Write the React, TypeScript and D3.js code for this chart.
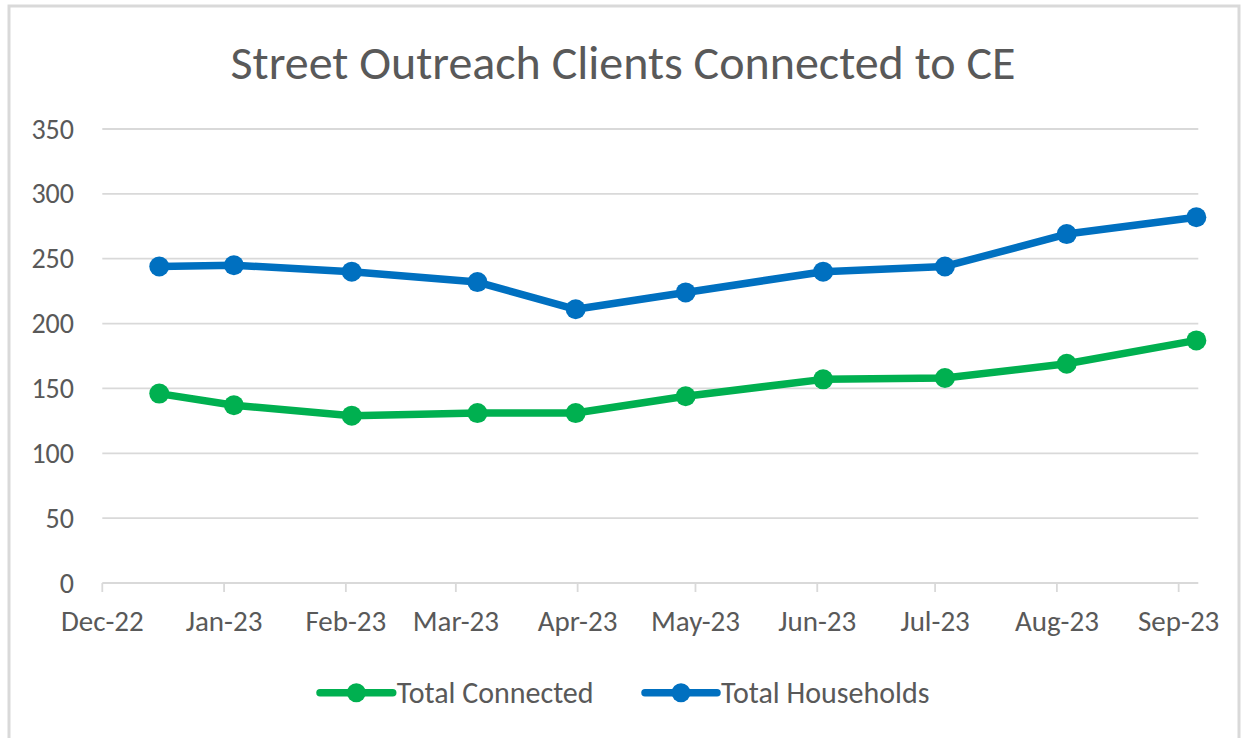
import React from "react";
import * as d3 from "d3";

const title = "Street Outreach Clients Connected to CE";
const dates = [
  "2022-12-15", "2023-01-03", "2023-02-02", "2023-03-06", "2023-03-31",
  "2023-04-28", "2023-06-02", "2023-07-03", "2023-08-03", "2023-09-05",
];
const totalConnected = [146, 137, 129, 131, 131, 144, 157, 158, 169, 187];
const totalHouseholds = [244, 245, 240, 232, 211, 224, 240, 244, 269, 282];
const yTicks = [0, 50, 100, 150, 200, 250, 300, 350];
const seriesNames = ["Total Connected", "Total Households"];
const seriesColors = ["#00B050", "#0070C0"];
const axisStart = "2022-12-01";
const axisEnd = "2023-09-06";

const W = 1246;
const H = 738;
const FONT = "Calibri, Carlito, Lato, 'Open Sans', sans-serif";
const TEXT = "#595959";
const GRID = "#D9D9D9";

export default function App() {
  const parse = (s: string) => new Date(s + "T00:00:00Z");
  const x = d3
    .scaleUtc()
    .domain([parse(axisStart), parse(axisEnd)])
    .range([102.3, 1198.3]);
  const y = d3.scaleLinear().domain([0, 350]).range([583, 129]);
  const half = 12 * 3600 * 1000;
  const xPos = (s: string) => x(new Date(parse(s).getTime() + half));
  const monthTicks = d3.utcMonth.range(parse(axisStart), parse(axisEnd));
  const fmt = d3.utcFormat("%b-%y");

  const series = [totalHouseholds, totalConnected].map((vals, k) => {
    const idx = k === 0 ? 1 : 0;
    return { vals, name: seriesNames[idx], color: seriesColors[idx] };
  });
  const line = d3
    .line<number>()
    .x((_, i) => xPos(dates[i]))
    .y((v) => y(v));

  const legendItems = [
    { name: seriesNames[0], color: seriesColors[0], x0: 320, x1: 392.7, tx: 396.7 },
    { name: seriesNames[1], color: seriesColors[1], x0: 645, x1: 717, tx: 721 },
  ];

  return (
    <svg
      width={W}
      height={H}
      style={{ position: "absolute", left: 0, top: 0, background: "#fff" }}
      fontFamily={FONT}
    >
      <rect x={0} y={0} width={W} height={H} fill="#fff" />
      <rect x={9} y={6} width={1230} height={800} fill="#fff" stroke={GRID} strokeWidth={3} />
      <text x={623} y={62} textAnchor="middle" dominantBaseline="central" fontSize={48} fill={TEXT}>
        {title}
      </text>
      {yTicks.map((t) => (
        <g key={t}>
          <line x1={102.3} x2={1198.3} y1={y(t)} y2={y(t)} stroke={GRID} strokeWidth={1.8} />
          <text x={74} y={y(t)} textAnchor="end" dominantBaseline="central" fontSize={28} fill={TEXT}>
            {t}
          </text>
        </g>
      ))}
      {monthTicks.map((d) => (
        <g key={d.toISOString()}>
          <line x1={x(d)} x2={x(d)} y1={583} y2={592} stroke={GRID} strokeWidth={1.8} />
          <text x={x(d)} y={631} textAnchor="middle" fontSize={29} fill={TEXT}>
            {fmt(d)}
          </text>
        </g>
      ))}
      {series.map((s) => (
        <g key={s.name}>
          <path
            d={line(s.vals) || ""}
            fill="none"
            stroke={s.color}
            strokeWidth={7.5}
            strokeLinejoin="round"
            strokeLinecap="round"
          />
          {s.vals.map((v, i) => (
            <circle key={i} cx={xPos(dates[i])} cy={y(v)} r={10} fill={s.color} />
          ))}
        </g>
      ))}
      {legendItems.map((l) => (
        <g key={l.name}>
          <line x1={l.x0} x2={l.x1} y1={692.7} y2={692.7} stroke={l.color} strokeWidth={7.5} strokeLinecap="round" />
          <circle cx={(l.x0 + l.x1) / 2} cy={692.7} r={9.5} fill={l.color} />
          <text x={l.tx} y={692.7} dominantBaseline="central" fontSize={30} fill={TEXT}>
            {l.name}
          </text>
        </g>
      ))}
    </svg>
  );
}
